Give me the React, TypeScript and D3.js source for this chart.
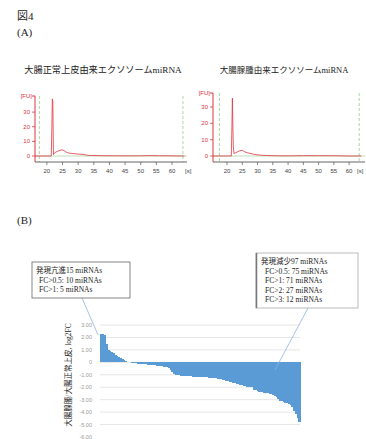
import React from "react";
import * as d3 from "d3";

// electropherogram traces (time [s], fluorescence [FU])
const leftT = [16.2, 21.4, 21.6, 21.75, 21.9, 22.1, 22.5, 23, 23.8, 24.6, 25.4, 26.2, 27, 27.8, 28.6, 29.5, 30.5, 31.5, 32.5, 33.5, 35, 38, 42, 46, 50, 53, 56, 60, 64];
const leftFU = [0, 0, 20, 39, 37, 1, 2.2, 2.8, 3.6, 4.2, 3.8, 2.6, 2, 1.8, 1.6, 1.4, 1.2, 1.1, 0.7, 0.4, 0.3, 0.2, 0.15, 0.1, 0.15, 0.25, 0.2, 0.1, 0];
const rightT = [15.4, 21.4, 21.6, 21.75, 21.9, 22.05, 22.3, 22.8, 23.5, 24.2, 25, 25.8, 26.6, 27.5, 28.5, 29.5, 31, 33, 36, 40, 45, 50, 55, 57, 60, 64];
const rightFU = [0, 0, 18, 35.5, 20, 6, 1.5, 2, 2.6, 3.2, 3.5, 2.6, 2, 1.6, 1.2, 0.8, 0.5, 0.3, 0.15, 0.1, 0.2, 0.2, 0.15, 0.1, 0, 0];
const xTicks = [20, 25, 30, 35, 40, 45, 50, 55, 60];
const fuTicks = [0, 10, 20, 30];

// log2FC, sorted (15 up, 3 ~0, 97 down)
const upFC = [2.27, 2.25, 2.2, 1.45, 1.02, 0.95, 0.82, 0.72, 0.6, 0.52, 0.42, 0.32, 0.25, 0.15, 0.08];
const flatFC = [0.03, 0.02, 0.01];
const downFC = [
  -0.05, -0.06, -0.08, -0.1, -0.11, -0.12, -0.14, -0.15, -0.17, -0.18, -0.2,
  -0.21, -0.23, -0.24, -0.26, -0.28, -0.3, -0.32, -0.34, -0.37, -0.4, -0.45,
  -0.6, -0.75, -0.9, -0.98,
  -1.03, -1.05, -1.06, -1.08, -1.09, -1.1, -1.11, -1.12, -1.13, -1.14, -1.15, -1.16, -1.17, -1.18, -1.19, -1.2, -1.2, -1.21, -1.22, -1.23, -1.24,
  -1.26, -1.28, -1.3, -1.33, -1.36, -1.4, -1.44, -1.48, -1.52, -1.56, -1.6, -1.64, -1.68, -1.72, -1.76, -1.8, -1.85, -1.9, -1.94, -1.97, -1.99, -1.99, -1.99,
  -2.2, -2.25, -2.3, -2.35, -2.4, -2.42, -2.45, -2.47, -2.5, -2.52, -2.55, -2.6, -2.7, -2.8, -2.95,
  -3.08, -3.12, -3.18, -3.25, -3.3, -3.36, -3.45, -3.6, -3.9, -4.15, -4.45, -4.8,
];
const fcTicks = [3, 2, 1, 0, -1, -2, -3, -4, -5, -6];
const upNote = ["発現亢進15 miRNAs", "FC>0.5: 10 miRNAs", "FC>1: 5 miRNAs"];
const downNote = ["発現減少97 miRNAs", "FC>0.5: 75 miRNAs", "FC>1: 71 miRNAs", "FC>2: 27 miRNAs", "FC>3: 12 miRNAs"];

const serifJP = "'Liberation Serif', 'Noto Sans CJK JP', serif";
const sans = "'Liberation Sans', Arial, sans-serif";

function Electro({ t, fu, xDom, xRange, yMax, yTop, title, titleX, titleSize, guides, sX }: any) {
  const x = d3.scaleLinear().domain(xDom).range(xRange);
  const y = d3.scaleLinear().domain([0, yMax]).range([156, yTop]);
  const line = d3.line<number>().x((_, i) => x(t[i])).y((d) => y(d));
  const axisY = 162;
  const x0 = xRange[0];
  return (
    <g>
      <text x={titleX} y={73} textAnchor="middle" fontSize={titleSize} fontFamily={serifJP} fill="#222">{title}</text>
      {guides.map((g: number) => (
        <line key={g} x1={x(g)} x2={x(g)} y1={yTop} y2={axisY} stroke="#8fcf8f" strokeWidth={0.8} strokeDasharray="3,2" />
      ))}
      <line x1={x0} x2={xRange[1]} y1={y(0)} y2={y(0)} stroke="#a6d8a6" strokeWidth={0.8} />
      <path d={line(fu) || ""} fill="none" stroke="#e0333c" strokeWidth={0.8} />
      <line x1={x0} x2={x0} y1={yTop} y2={axisY} stroke="#e0333c" strokeWidth={1} />
      <line x1={x0 - 3} x2={x0} y1={yTop} y2={yTop} stroke="#e0333c" strokeWidth={1} />
      <text x={x0 - 3} y={yTop + 2} textAnchor="end" fontSize={6} fontFamily={sans} fill="#e0333c">[FU]</text>
      {fuTicks.map((v) => (
        <g key={v}>
          <line x1={x0 - 3} x2={x0} y1={y(v)} y2={y(v)} stroke="#e0333c" strokeWidth={0.8} />
          <text x={x0 - 5} y={y(v) + 2} textAnchor="end" fontSize={6} fontFamily={sans} fill="#e0333c">{v}</text>
        </g>
      ))}
      <line x1={x0} x2={xRange[1]} y1={axisY} y2={axisY} stroke="#666" strokeWidth={1} />
      {xTicks.map((v) => (
        <g key={v}>
          <line x1={x(v)} x2={x(v)} y1={axisY} y2={axisY + 3} stroke="#666" strokeWidth={0.8} />
          <text x={x(v)} y={axisY + 11} textAnchor="middle" fontSize={6} fontFamily={sans} fill="#444">{v}</text>
        </g>
      ))}
      <text x={sX} y={axisY + 11} fontSize={6} fontFamily={sans} fill="#444">[s]</text>
    </g>
  );
}

export default function App() {
  const fc = [...upFC, ...flatFC, ...downFC];
  const bx = d3.scaleBand<number>().domain(d3.range(fc.length)).range([100, 300]).padding(0);
  const by = d3.scaleLinear().domain([-6, 3]).range([437, 325]);
  const bw = bx.bandwidth();
  return (
    <svg width={366} height={439} style={{ position: "absolute", left: 0, top: 0 }}>
      <rect width={366} height={439} fill="#fff" />
      <text x={17} y={20} fontSize={11} fontFamily={serifJP} fill="#222">図4</text>
      <text x={17} y={36} fontSize={11} fontFamily={serifJP} fill="#222">(A)</text>
      <Electro t={leftT} fu={leftFU} xDom={[16.2, 64.8]} xRange={[35, 187]} yMax={41} yTop={96}
        title="大腸正常上皮由来エクソソームmiRNA" titleX={103} titleSize={9.2} guides={[17.6, 63.5]} sX={185} />
      <Electro t={rightT} fu={rightFU} xDom={[15.4, 65.2]} xRange={[213, 365]} yMax={38.6} yTop={93}
        title="大腸腺腫由来エクソソームmiRNA" titleX={284} titleSize={8.5} guides={[17.5, 63.3]} sX={357} />

      <text x={17} y={224} fontSize={11} fontFamily={serifJP} fill="#222">(B)</text>
      {fcTicks.map((v) => (
        <g key={v}>
          {v > -6 && <line x1={100} x2={300} y1={by(v)} y2={by(v)} stroke="#e6e6e6" strokeWidth={1} />}
          <text x={92} y={by(v) + 2} textAnchor="end" fontSize={5.5} fontFamily={sans} fill="#999">{v === 0 ? "0" : v.toFixed(2)}</text>
        </g>
      ))}
      <g shapeRendering="crispEdges">
        {fc.map((v, i) => (
          <rect key={i} x={bx(i)} width={bw + 1} y={by(Math.max(0, v))} height={Math.abs(by(v) - by(0))} fill="#5b9bd5" />
        ))}
      </g>
      <text transform={`translate(71,375) rotate(-90)`} textAnchor="middle" fontSize={7.5} fontFamily={serifJP} fill="#222">大腸腺腫/大腸正常上皮, log2FC</text>

      <line x1={82} y1={298} x2={98} y2={335} stroke="#8fb4e3" strokeWidth={0.8} />
      <rect x={32} y={262} width={98} height={36} fill="#fff" stroke="#666" strokeWidth={0.8} />
      {upNote.map((s, i) => (
        <text key={s} x={i === 0 ? 36 : 39} y={273 + i * 9.5} fontSize={7.5} fontFamily={serifJP} fill="#222">{s}</text>
      ))}
      <line x1={308} y1={308} x2={275} y2={370} stroke="#8fb4e3" strokeWidth={0.8} />
      <rect x={256} y={253} width={102} height={55} fill="#fff" stroke="#aaa" strokeWidth={0.8} />
      <line x1={256.5} x2={256.5} y1={253} y2={308} stroke="#777" strokeWidth={1.5} />
      {downNote.map((s, i) => (
        <text key={s} x={i === 0 ? 261 : 265} y={264 + i * 9.6} fontSize={7.5} fontFamily={serifJP} fill="#222">{s}</text>
      ))}
    </svg>
  );
}
